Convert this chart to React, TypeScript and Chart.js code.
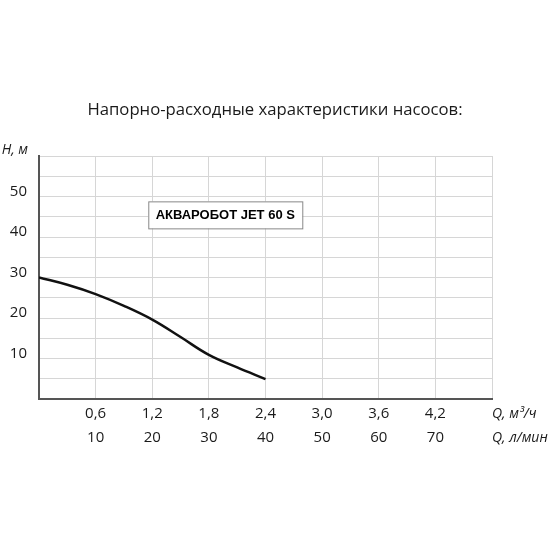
import React, { useEffect, useRef } from "react";
import { Chart, registerables } from "chart.js";

Chart.register(...registerables);

const title = "Напорно-расходные характеристики насосов:";
const seriesLabel = "АКВАРОБОТ JET 60 S";
const flowLmin = [0, 5, 10, 15, 20, 25, 30, 35, 40];
const headM = [30, 28.2, 25.9, 23.0, 19.6, 15.3, 10.9, 7.8, 4.9];
const yTickValues = [10, 20, 30, 40, 50];
const xTickLmin = [10, 20, 30, 40, 50, 60, 70];
const xTickM3h = ["0,6", "1,2", "1,8", "2,4", "3,0", "3,6", "4,2"];
const yAxisTitle = "H, м";
const xAxisTitle1 = "Q, м³/ч";
const xAxisTitle2 = "Q, л/мин";

const FONT = "'Open Sans', 'Noto Sans', sans-serif";

const textPlugin = {
  id: "customText",
  afterDraw(chart: any) {
    const ctx = chart.ctx;
    const xs = chart.scales.x;
    const ys = chart.scales.y;
    const area = chart.chartArea;
    ctx.save();
    ctx.fillStyle = "#1a1a1a";
    // title
    ctx.font = `16.7px ${FONT}`;
    ctx.textAlign = "center";
    ctx.textBaseline = "middle";
    ctx.fillText(title, 275, 110);
    // y ticks
    ctx.font = `15px ${FONT}`;
    ctx.textAlign = "right";
    yTickValues.forEach((v) => {
      ctx.fillText(String(v), 27, ys.getPixelForValue(v) - 5);
    });
    // x ticks
    ctx.textAlign = "center";
    xTickLmin.forEach((v, i) => {
      const px = xs.getPixelForValue(v);
      ctx.fillText(xTickM3h[i], px, area.bottom + 15);
      ctx.fillText(String(v), px, area.bottom + 39);
    });
    // axis titles
    ctx.font = `italic 14px ${FONT}`;
    ctx.textAlign = "left";
    ctx.fillText(xAxisTitle1, 492, area.bottom + 15);
    ctx.fillText(xAxisTitle2, 492, area.bottom + 39);
    ctx.textAlign = "right";
    ctx.fillText(yAxisTitle, 28, area.top - 6);
    // series label box
    const bx = xs.getPixelForValue(19.3);
    const by = ys.getPixelForValue(48.8);
    const bw = 154;
    const bh = 27;
    ctx.fillStyle = "#fff";
    ctx.fillRect(bx, by, bw, bh);
    ctx.strokeStyle = "#888";
    ctx.lineWidth = 1;
    ctx.strokeRect(bx + 0.5, by + 0.5, bw, bh);
    ctx.fillStyle = "#000";
    ctx.font = `bold 13px 'Liberation Sans', Arial, sans-serif`;
    ctx.textAlign = "center";
    ctx.fillText(seriesLabel, bx + bw / 2, by + bh / 2 + 1);
    ctx.restore();
  },
};

export default function App() {
  const ref = useRef<HTMLCanvasElement>(null);
  useEffect(() => {
    if (!ref.current) return;
    const chart = new Chart(ref.current, {
      type: "line",
      data: {
        datasets: [
          {
            data: flowLmin.map((x, i) => ({ x, y: headM[i] })),
            borderColor: "#111",
            borderWidth: 2.5,
            pointRadius: 0,
            tension: 0.4,
            fill: false,
          },
        ],
      },
      options: {
        animation: false,
        responsive: false,
        maintainAspectRatio: false,
        layout: { padding: { left: 39, right: 58, top: 156, bottom: 151 } },
        plugins: { legend: { display: false }, tooltip: { enabled: false }, title: { display: false } },
        scales: {
          x: {
            type: "linear",
            min: 0,
            max: 80,
            ticks: { display: false, stepSize: 10 },
            grid: { color: "#d6d6d6", drawTicks: false, lineWidth: 1 },
            border: { color: "#555", width: 2 },
          },
          y: {
            min: 0,
            max: 60,
            ticks: { display: false, stepSize: 5 },
            grid: { color: "#d6d6d6", drawTicks: false, lineWidth: 1 },
            border: { color: "#555", width: 2 },
          },
        },
      },
      plugins: [textPlugin],
    });
    return () => chart.destroy();
  }, []);
  return (
    <div style={{ position: "absolute", left: 0, top: 0, width: 550, height: 550, background: "#fff" }}>
      <canvas ref={ref} width={550} height={550} style={{ width: 550, height: 550 }} />
    </div>
  );
}
